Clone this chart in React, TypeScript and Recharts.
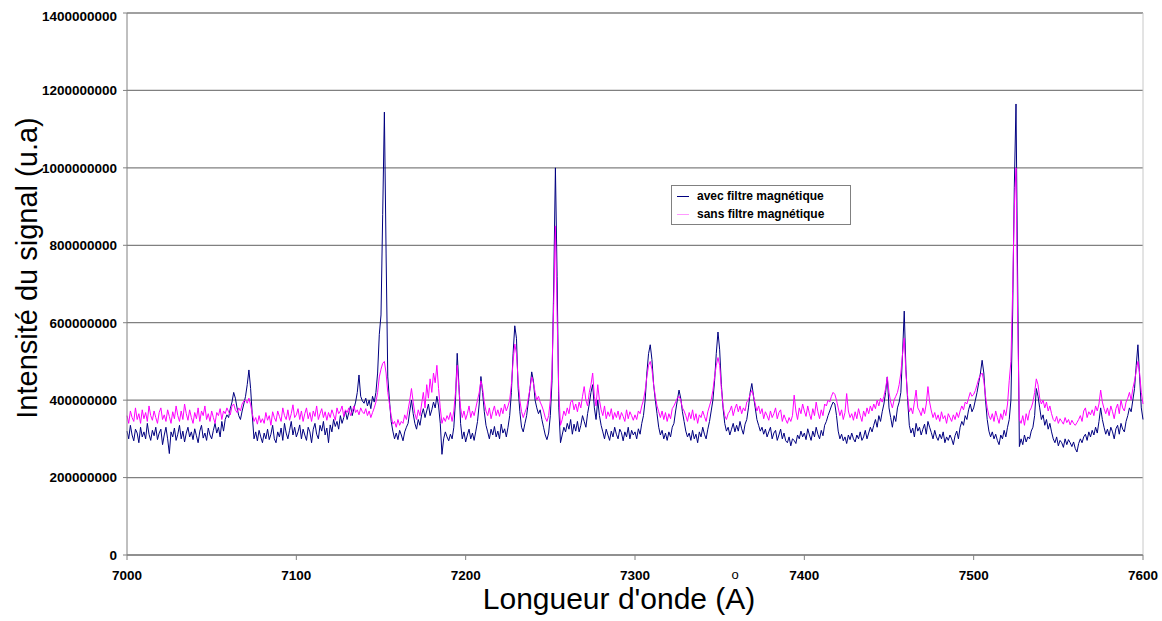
import React from "react";
import {
  LineChart,
  Line,
  XAxis,
  YAxis,
  CartesianGrid,
  Legend,
  ReferenceLine,
} from "recharts";

// Wavelength grid starts at 7000 Å, one value per Å. Intensities in millions (u.a).
const START_LAMBDA = 7000;

const avecFiltre = [
  320, 300, 335, 310, 295, 325, 315, 290, 330, 305,
  318, 300, 340, 312, 296, 322, 308, 330, 298, 315,
  325, 285, 310, 330, 300, 262, 318, 305, 328, 296,
  312, 335, 300, 320, 292, 315, 330, 305, 318, 298,
  326, 308, 290, 320, 335, 302, 315, 296, 328, 310,
  300, 322, 340, 315, 330, 305, 345, 320, 350, 362,
  355, 378, 395, 420, 405, 380, 360, 350, 372, 390,
  410, 440, 478, 430, 360, 300, 318, 295, 322, 305,
  290, 315, 300, 325, 298, 312, 335, 300, 290, 318,
  305, 328, 296, 340, 315, 300, 322, 345, 310, 330,
  305, 318, 336, 300, 325, 310, 296, 330, 318, 290,
  325, 340, 312, 300, 335, 320, 345, 310, 328, 290,
  336, 318, 350, 332, 345, 325, 360, 340, 355, 372,
  350, 368, 385, 360, 378, 395, 420, 465, 410, 398,
  392, 405, 385, 400, 378, 410, 395, 420, 470, 570,
  620, 880, 1144, 780, 460, 400, 345, 320, 300, 315,
  298, 322, 310, 295, 318, 330, 340, 372, 400, 365,
  340, 325, 350, 335, 362, 378, 355, 372, 390, 360,
  375, 395, 380, 410, 385, 340, 260, 300, 318, 305,
  295, 312, 300, 330, 400, 521, 440, 340, 300, 318,
  292, 310, 325, 300, 315, 296, 320, 345, 390, 461,
  420, 370, 335, 318, 300, 325, 310, 332, 305, 320,
  300, 338, 315, 326, 305, 330, 360, 420, 520, 592,
  560, 430, 370, 330, 318, 340, 360, 395, 430, 473,
  450, 400, 380, 365, 375, 350, 330, 310, 298, 315,
  360, 450, 700, 1000, 720, 380, 290, 310, 330, 318,
  340, 325, 350, 312, 338, 320, 345, 318, 335, 360,
  345, 330, 365, 390, 420, 440, 380, 350, 400, 360,
  335, 318, 300, 325, 310, 296, 320, 305, 330, 312,
  300, 325, 316, 295, 318, 305, 330, 300, 322, 310,
  318, 300, 326, 312, 340, 360, 400, 470, 520, 543,
  505, 440, 400, 365, 330, 310, 322, 300, 315, 296,
  318, 305, 330, 340, 372, 400, 426, 405, 370, 345,
  320, 305, 315, 296, 322, 300, 312, 290, 318, 305,
  330, 312, 300, 325, 345, 372, 400, 450, 520, 576,
  530, 440, 380, 340, 320, 330, 310, 325, 340, 318,
  335, 320, 345, 326, 312, 338, 350, 380, 420, 443,
  410, 380, 350, 335, 320, 330, 312, 325, 305, 318,
  330, 300, 315, 322, 296, 310, 325, 300, 315, 295,
  290, 305, 282, 300, 296, 288, 310, 300, 320, 305,
  315, 298, 326, 310, 296, 320, 305, 330, 312, 300,
  322, 308, 335, 345, 360, 372, 385, 395, 390, 360,
  320, 300, 312, 295, 305, 288, 310, 298, 315, 300,
  292, 310, 300, 318, 296, 305, 322, 300, 315, 330,
  318, 335, 350, 330, 360, 345, 370, 390, 420, 460,
  380, 355, 330, 360, 345, 380, 395, 420, 520, 630,
  480, 400, 335, 315, 328, 305, 340, 320, 330, 310,
  325, 338, 312, 345, 330, 316, 300, 322, 305, 296,
  312, 300, 318, 290, 305, 296, 310, 300, 285, 308,
  320, 300, 330, 345, 335, 360, 350, 375, 390, 370,
  380, 400, 420, 445, 470, 503, 470, 400, 350, 320,
  305, 318, 300, 312, 296, 285, 310, 300, 322, 305,
  330, 350, 400, 620, 950, 1165, 700, 280, 300, 285,
  310, 292, 305, 300, 320, 330, 360, 430, 410, 380,
  350, 362, 335, 350, 325, 340, 318, 300, 290, 305,
  282, 296, 290, 278, 300, 285, 298, 290, 280, 292,
  275, 266, 288, 300, 290, 305, 312, 296, 318, 305,
  322, 310, 330, 315, 345, 380, 350, 330, 312, 325,
  308, 330, 318, 300, 326, 335, 312, 340, 325, 318,
  345, 360, 380, 370, 400, 430, 490, 543, 460, 380,
  350,
];

const sansFiltre = [
  360, 340, 372, 355, 345, 380, 350, 365, 340, 375,
  352, 368, 345, 385, 360, 348, 372, 355, 340, 368,
  380, 350, 362, 345, 375, 358, 340, 370, 352, 385,
  360, 345, 372, 350, 390, 365, 348, 375, 355, 340,
  368, 352, 380, 345, 372, 360, 385, 350, 365, 345,
  372, 355, 340, 368, 360, 378, 350, 372, 365, 380,
  370, 362, 385, 390, 375, 368, 380, 372, 390, 398,
  400, 392, 405, 388, 365, 345, 355, 338, 360, 342,
  352, 340, 368, 348, 360, 335, 370, 355, 345, 372,
  358, 345, 380, 360, 350, 375, 348, 365, 388, 355,
  362, 378, 350, 372, 345, 365, 380, 352, 368, 345,
  372, 358, 385, 350, 365, 378, 355, 370, 348, 368,
  355, 375, 362, 348, 380, 365, 372, 385, 358, 375,
  368, 380, 360, 372, 385, 368, 375, 362, 380, 370,
  365, 378, 360, 372, 355, 368, 380, 395, 420, 460,
  480, 495, 500, 470, 420, 390, 360, 338, 345, 330,
  350, 335, 345, 340, 362, 350, 375, 400, 430, 395,
  365, 350, 375, 360, 390, 420, 380, 440, 405, 455,
  420, 470, 445, 490, 430, 380, 340, 355, 345, 360,
  350, 368, 345, 372, 420, 490, 430, 380, 355, 372,
  350, 365, 385, 355, 372, 360, 380, 400, 420, 450,
  430, 395, 372, 360, 380, 352, 370, 385, 360, 375,
  358, 380, 365, 390, 372, 385, 400, 440, 500, 545,
  520, 450, 400, 370, 355, 368, 380, 405, 430, 460,
  445, 420, 400, 410, 395, 385, 372, 355, 345, 360,
  400, 480, 650, 850, 620, 420, 335, 350, 372, 360,
  380, 365, 395, 400, 375, 390, 370, 395, 380, 410,
  435, 400, 385, 420, 440, 470, 410, 385, 440, 400,
  375, 360, 385, 352, 370, 358, 378, 350, 368, 355,
  372, 350, 368, 358, 345, 375, 352, 370, 360, 348,
  362, 350, 372, 365, 385, 400, 425, 460, 490, 500,
  480, 440, 410, 385, 370, 355, 372, 350, 368, 345,
  365, 352, 378, 385, 395, 405, 410, 400, 380, 372,
  360, 345, 368, 352, 375, 348, 365, 340, 362, 355,
  372, 358, 345, 370, 385, 400, 425, 460, 490, 510,
  490, 430, 385, 360, 350, 365, 372, 385, 360, 378,
  390, 370, 385, 365, 380, 372, 395, 400, 415, 425,
  410, 390, 372, 385, 365, 378, 352, 370, 360, 348,
  372, 355, 365, 380, 352, 368, 375, 345, 362, 350,
  340, 355, 345, 360, 413, 372, 350, 380, 365, 390,
  372, 358, 385, 365, 350, 378, 360, 395, 370, 352,
  375, 360, 390, 385, 400, 395, 410, 420, 415, 400,
  380, 360, 375, 350, 368, 417, 372, 355, 365, 348,
  370, 352, 378, 360, 345, 372, 358, 380, 365, 385,
  372, 390, 378, 400, 385, 405, 395, 410, 430, 460,
  420, 395, 380, 400, 410, 420, 440, 470, 520, 560,
  470, 410, 370, 380, 365, 395, 426, 380, 372, 360,
  380, 365, 390, 435, 395, 372, 355, 368, 350, 362,
  345, 370, 352, 360, 340, 365, 355, 345, 362, 350,
  368, 355, 372, 385, 375, 395, 390, 405, 420, 410,
  415, 425, 440, 455, 465, 470, 450, 410, 380, 360,
  350, 365, 345, 372, 355, 340, 365, 350, 375, 360,
  390, 450, 500, 680, 900, 1000, 600, 350, 340, 360,
  335, 365, 348, 372, 380, 395, 420, 455, 440, 405,
  390, 400, 380, 395, 372, 385, 365, 350, 345, 358,
  340, 352, 345, 338, 355, 342, 350, 336, 348, 340,
  335, 342, 350, 360, 345, 372, 380, 355, 370, 362,
  375, 360, 385, 372, 390, 426, 395, 378, 365, 380,
  360, 385, 370, 352, 378, 390, 365, 400, 380, 372,
  395, 405, 420, 400, 430, 450, 475, 500, 470, 420,
  390,
];

const xTicks = [7000, 7100, 7200, 7300, 7400, 7500, 7600];
const yTicks = [
  0, 200000000, 400000000, 600000000, 800000000, 1000000000, 1200000000,
  1400000000,
];

const seriesNames = {
  avec: "avec filtre magnétique",
  sans: "sans filtre magnétique",
};

const data = avecFiltre.map((v, i) => ({
  lambda: START_LAMBDA + i,
  avec: v * 1e6,
  sans: sansFiltre[i] * 1e6,
}));

const FONT = "Arial, 'Liberation Sans', sans-serif";
const BLUE = "#000080";
const PINK = "#ff00ff";
const GRID = "#808080";

const tickStyle = { fontSize: 13.5, fontWeight: "bold", fill: "#000", fontFamily: FONT };

function XTitle() {
  // "A" with a small ring above it, as in the original
  return (
    <text x={611} y={601} textAnchor="middle" fontSize={30} fontFamily={FONT} fill="#000">
      Longueur d'onde (A
      <tspan dx={-13.8} dy={-30} fontSize={13}>
        o
      </tspan>
      <tspan dx={6.4} dy={30}>
        )
      </tspan>
    </text>
  );
}

function YTitle() {
  return (
    <text
      x={29}
      y={260}
      textAnchor="middle"
      fontSize={29}
      fontFamily={FONT}
      fill="#000"
      transform="rotate(-90, 29, 260)"
    >
      Intensité du signal (u.a)
    </text>
  );
}

function LegendBox() {
  const row = (color: string, label: string) => (
    <div style={{ display: "flex", alignItems: "center", height: 18 }}>
      <span
        style={{
          display: "inline-block",
          width: 12,
          borderTop: `1px solid ${color}`,
          marginRight: 8,
        }}
      />
      <span>{label}</span>
    </div>
  );
  return (
    <div
      style={{
        border: "1px solid #808080",
        background: "#fff",
        padding: "1px 5px",
        width: 168,
        fontFamily: FONT,
        fontWeight: "bold",
        fontSize: 12,
        color: "#000",
        lineHeight: "18px",
      }}
    >
      {row(BLUE, seriesNames.avec)}
      {row("#ff99ff", seriesNames.sans)}
    </div>
  );
}

export default function App() {
  // fixed so the 1154x613 chart does not make the page scroll
  return (
    <div
      style={{
        position: "fixed",
        left: 8,
        top: 8,
        width: 1154,
        height: 613,
        background: "#fff",
      }}
    >
      <LineChart
        width={1154}
        height={613}
        data={data}
        margin={{ top: 5, right: 19, bottom: 0, left: 0 }}
      >
        <CartesianGrid vertical={false} stroke={GRID} strokeWidth={1.3} />
        <XAxis
          dataKey="lambda"
          type="number"
          domain={[7000, 7600]}
          ticks={xTicks}
          height={66}
          stroke={GRID}
          tickSize={5}
          tickMargin={10}
          tick={tickStyle}
          label={{ content: () => <XTitle /> }}
        />
        <YAxis
          domain={[0, 1400000000]}
          ticks={yTicks}
          width={119}
          stroke={GRID}
          tickSize={4}
          tickMargin={6}
          tick={tickStyle}
          tickFormatter={(v: number) => String(v)}
          label={{ content: () => <YTitle /> }}
        />
        <ReferenceLine x={7600} stroke="#c8c8c8" />
        <Legend
          layout="vertical"
          align="center"
          verticalAlign="middle"
          content={() => <LegendBox />}
          wrapperStyle={{ left: 663, top: 177, width: 182 }}
        />
        <Line
          type="linear"
          dataKey="avec"
          name={seriesNames.avec}
          stroke={BLUE}
          strokeWidth={1}
          dot={false}
          isAnimationActive={false}
        />
        <Line
          type="linear"
          dataKey="sans"
          name={seriesNames.sans}
          stroke={PINK}
          strokeWidth={1}
          dot={false}
          isAnimationActive={false}
        />
      </LineChart>
    </div>
  );
}
